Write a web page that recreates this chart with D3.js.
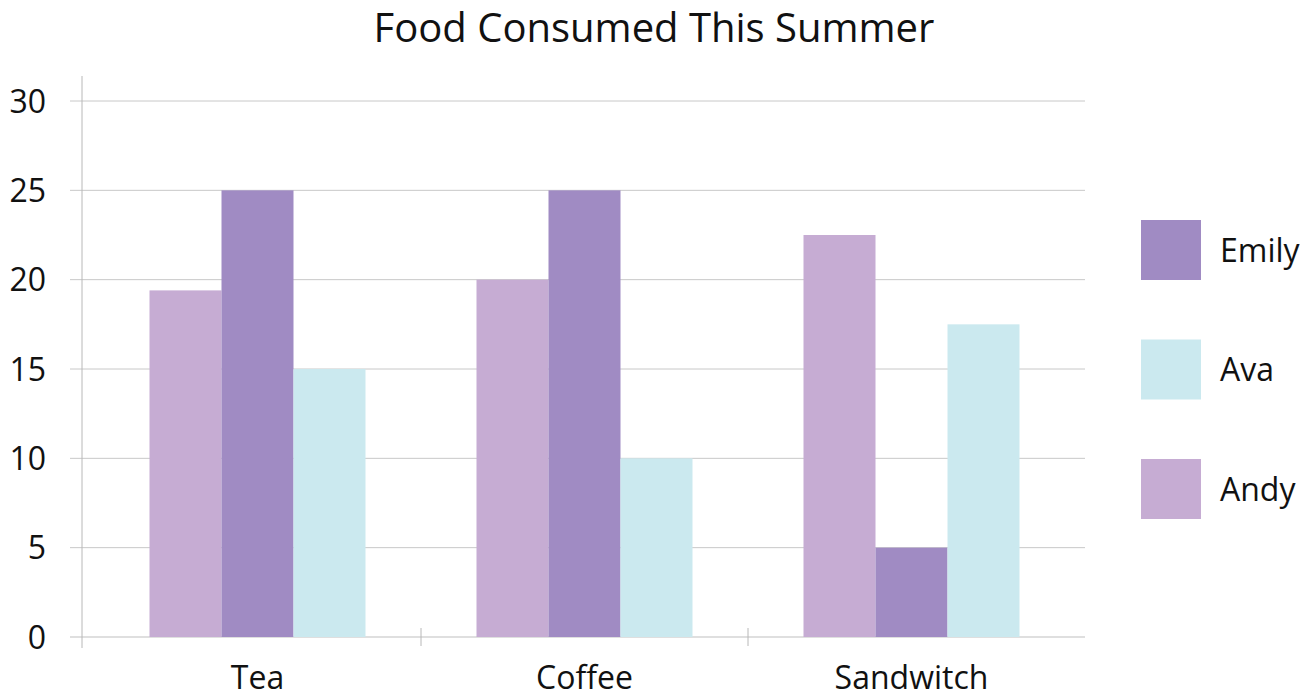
<!DOCTYPE html>
<html>
<head>
<meta charset="utf-8">
<script src="https://cdn.jsdelivr.net/npm/d3@7"></script>
<style>
  body { margin: 0; background: #fff; }
  text { font-family: "Open Sans", "Noto Sans", sans-serif; fill: #111; }
</style>
</head>
<body>
<div id="chart"></div>
<script>
var categories = ["Tea", "Coffee", "Sandwitch"];
var series = ["Andy", "Emily", "Ava"];
var andy = [19.4, 20, 22.5];
var emily = [25, 25, 5];
var ava = [15, 10, 17.5];
var yTicks = [0, 5, 10, 15, 20, 25, 30];
var legendOrder = ["Emily", "Ava", "Andy"];

var colors = { Andy: "#c6acd3", Emily: "#a08bc3", Ava: "#cbe9ef" };
var values = { Andy: andy, Emily: emily, Ava: ava };

var width = 1316, height = 697;

var svg = d3.select("#chart").append("svg")
  .attr("width", width)
  .attr("height", height);

var x = d3.scaleBand()
  .domain(categories)
  .range([94, 1075])
  .paddingInner(0)
  .paddingOuter(0);

var xInner = d3.scaleBand()
  .domain(series)
  .range([0, 216]);

var y = d3.scaleLinear()
  .domain([0, 30])
  .range([637, 101]);

// grid lines
svg.append("g")
  .selectAll("line")
  .data(yTicks)
  .enter()
  .append("line")
  .attr("x1", 70)
  .attr("x2", 1085)
  .attr("y1", function(d) { return y(d); })
  .attr("y2", function(d) { return y(d); })
  .style("stroke", function(d) { return d == 0 ? "#d4d4d4" : "#c8c8c8"; })
  .style("stroke-width", function(d) { return d == 0 ? 1.5 : 1; });

// y labels
svg.append("g")
  .selectAll("text")
  .data(yTicks)
  .enter()
  .append("text")
  .attr("x", 46)
  .attr("y", function(d) { return y(d); })
  .attr("dy", "0.36em")
  .attr("text-anchor", "end")
  .attr("font-size", 32)
  .text(function(d) { return d; });

// bars
var groups = svg.append("g")
  .selectAll("g")
  .data(categories)
  .enter()
  .append("g")
  .attr("transform", function(d) {
    return "translate(" + (x(d) + (x.bandwidth() - 216) / 2) + ",0)";
  });

groups.selectAll("rect")
  .data(function(d, i) {
    return series.map(function(s) { return { name: s, value: values[s][i] }; });
  })
  .enter()
  .append("rect")
  .attr("x", function(d) { return xInner(d.name); })
  .attr("width", xInner.bandwidth())
  .attr("y", function(d) { return y(d.value); })
  .attr("height", function(d) { return y(0) - y(d.value); })
  .attr("fill", function(d) { return colors[d.name]; });

// y axis line
svg.append("line")
  .attr("x1", 82).attr("x2", 82)
  .attr("y1", 76).attr("y2", 648)
  .style("stroke", "#b8b8b8")
  .style("stroke-width", 1);

// category separators
svg.append("g")
  .selectAll("line")
  .data(categories.slice(1))
  .enter()
  .append("line")
  .attr("x1", function(d) { return x(d); })
  .attr("x2", function(d) { return x(d); })
  .attr("y1", 628)
  .attr("y2", 646)
  .style("stroke", "#b8b8b8")
  .style("stroke-width", 1);

// category labels
svg.append("g")
  .selectAll("text")
  .data(categories)
  .enter()
  .append("text")
  .attr("x", function(d) { return x(d) + x.bandwidth() / 2; })
  .attr("y", 689)
  .attr("text-anchor", "middle")
  .attr("font-size", 32)
  .text(function(d) { return d; });

// title
svg.append("text")
  .attr("x", 654)
  .attr("y", 42)
  .attr("text-anchor", "middle")
  .attr("font-size", 40)
  .text("Food Consumed This Summer");

// legend
var legend = svg.append("g")
  .selectAll("g")
  .data(legendOrder)
  .enter()
  .append("g")
  .attr("transform", function(d, i) { return "translate(1141," + (220 + i * 119.5) + ")"; });

legend.append("rect")
  .attr("width", 60)
  .attr("height", 60)
  .attr("fill", function(d) { return colors[d]; });

legend.append("text")
  .attr("x", 79)
  .attr("y", 30)
  .attr("dy", "0.36em")
  .attr("font-size", 32)
  .text(function(d) { return d; });
</script>
</body>
</html>
